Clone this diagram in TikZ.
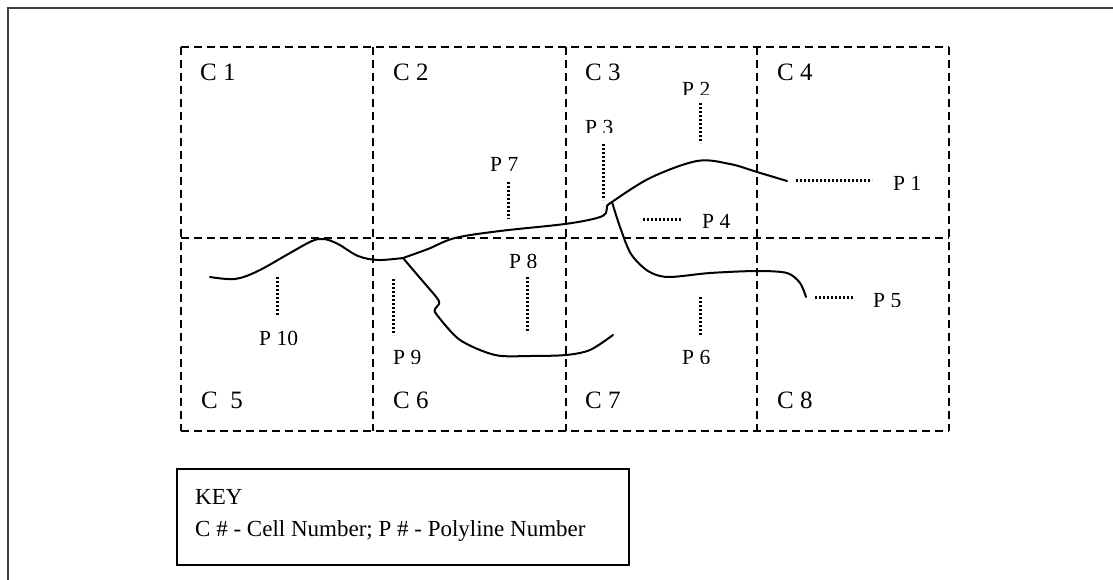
\documentclass[tikz,border=0pt]{standalone}
\usepackage{fontspec}
\setmainfont{Liberation Serif}
\begin{document}
\begin{tikzpicture}[x=1pt,y=-1pt,
  gridline/.style={line width=1.6pt, dash pattern=on 8pt off 5pt},
  poly/.style={line width=2pt, line cap=round, line join=round},
  dots/.style={line width=3pt, dash pattern=on 2pt off 2pt},
  clab/.style={anchor=base west, inner sep=0pt, font=\fontsize{25}{30}\selectfont},
  plab/.style={anchor=base west, inner sep=0pt, font=\fontsize{21.5}{25}\selectfont},
  keytext/.style={anchor=base west, inner sep=0pt, font=\fontsize{23}{28}\selectfont},
  frame/.style={line width=2pt, black!75},
]
\useasboundingbox (0,0) rectangle (1113,580);
% outer frame (only top and left visible)
\coordinate (fbl) at (8,600);
\coordinate (ftl) at (8,8);
\coordinate (ftr) at (1130,8);
\draw[frame] (fbl) -- (ftl) -- (ftr);

% grid
\coordinate (g00) at (181,47);
\coordinate (g40) at (949,47);
\coordinate (g01) at (181,238);
\coordinate (g41) at (949,238);
\coordinate (g02) at (181,431);
\coordinate (g42) at (949,431);
\coordinate (v1t) at (373,47); \coordinate (v1b) at (373,431);
\coordinate (v2t) at (566,47); \coordinate (v2b) at (566,431);
\coordinate (v3t) at (757,47); \coordinate (v3b) at (757,431);
\draw[gridline] (g00) -- (g40);
\draw[gridline] (g01) -- (g41);
\draw[gridline] (g02) -- (g42);
\draw[gridline] (g00) -- (g02);
\draw[gridline] (v1t) -- (v1b);
\draw[gridline] (v2t) -- (v2b);
\draw[gridline] (v3t) -- (v3b);
\draw[gridline] (g40) -- (g42);

% cell labels
\node[clab] (c1) at (200,81) {C 1};
\node[clab] (c2) at (393,81) {C 2};
\node[clab] (c3) at (585,81) {C 3};
\node[clab] (c4) at (777,81) {C 4};
\node[clab] (c5) at (201,408) {C\ \ 5};
\node[clab] (c6) at (393,408) {C 6};
\node[clab] (c7) at (585,408) {C 7};
\node[clab] (c8) at (777,408) {C 8};

% polylines
\coordinate (j1) at (403,258);
\coordinate (j2) at (612,202);
\draw[poly] plot[smooth, tension=0.55] coordinates {
  (210,277) (235,279) (258,271) (290,253) (312,241) (324,239) (338,244) (358,256) (378,260) (403,258)};
\draw[poly] plot[smooth, tension=0.55] coordinates {
  (403,258) (428,249) (455,238) (500,231) (565,224) (597,218) (606,213) (607,206) (612,202)};
\draw[poly] plot[smooth, tension=0.55] coordinates {
  (612,202) (650,178) (697,161) (730,164) (757,172) (787,181)};
\draw[poly] plot[smooth, tension=0.5] coordinates {
  (612,202) (620,227) (631,254) (648,271) (668,277) (710,273) (757,271) (787,273) (800,283) (806,297)};
\draw[poly] plot[smooth, tension=0.5] coordinates {
  (403,258) (420,278) (437,298) (439,304) (435,309) (437,315) (460,340) (495,355) (530,356) (566,355) (590,350) (613,335)};

% polyline labels and dotted leaders
\coordinate (d1a) at (796,181); \coordinate (d1b) at (872,181);
\draw[dots] (d1a) -- (d1b);
\node[plab] (p1) at (893,191) {P 1};

\coordinate (d2a) at (700,103); \coordinate (d2b) at (700,143);
\draw[dots] (d2a) -- (d2b);
\begin{scope}\clip (670,60) rectangle (730,95);
\node[plab] (p2) at (682,96.5) {P 2};
\end{scope}

\coordinate (d3a) at (603,144); \coordinate (d3b) at (603,200);
\draw[dots] (d3a) -- (d3b);
\begin{scope}\clip (575,100) rectangle (630,133);
\node[plab] (p3) at (585,134.5) {P 3};
\end{scope}

\coordinate (d4a) at (643,219); \coordinate (d4b) at (681,219);
\draw[dots] (d4a) -- (d4b);
\node[plab] (p4) at (702,229) {P 4};

\coordinate (d5a) at (815,297); \coordinate (d5b) at (853,297);
\draw[dots] (d5a) -- (d5b);
\begin{scope}\clip (865,270) rectangle (930,306);
\node[plab] (p5) at (873,307.5) {P 5};
\end{scope}

\coordinate (d6a) at (700,297); \coordinate (d6b) at (700,335);
\draw[dots] (d6a) -- (d6b);
\begin{scope}\clip (670,330) rectangle (730,363);
\node[plab] (p6) at (682,364.5) {P 6};
\end{scope}

\coordinate (d7a) at (508,182); \coordinate (d7b) at (508,219);
\draw[dots] (d7a) -- (d7b);
\node[plab] (p7) at (490,172) {P 7};

\coordinate (d8a) at (527,277); \coordinate (d8b) at (527,333);
\draw[dots] (d8a) -- (d8b);
\begin{scope}\clip (500,240) rectangle (560,267);
\node[plab] (p8) at (509,268.5) {P 8};
\end{scope}

\coordinate (d9a) at (393,279); \coordinate (d9b) at (393,335);
\draw[dots] (d9a) -- (d9b);
\begin{scope}\clip (385,340) rectangle (440,363);
\node[plab] (p9) at (393,364.5) {P 9};
\end{scope}

\coordinate (d10a) at (277,277); \coordinate (d10b) at (277,315);
\draw[dots] (d10a) -- (d10b);
\begin{scope}\clip (250,320) rectangle (320,344);
\node[plab] (p10) at (259,345.5) {P 10};
\end{scope}

% key
\coordinate (k1) at (177,469);
\coordinate (k2) at (629,565);
\draw[line width=1.5pt] (k1) rectangle (k2);
\node[keytext] (key) at (195,504) {KEY};
\node[keytext] (keyline) at (195,536) {C \# - Cell Number; P \# - Polyline Number};
\end{tikzpicture}
\end{document}
